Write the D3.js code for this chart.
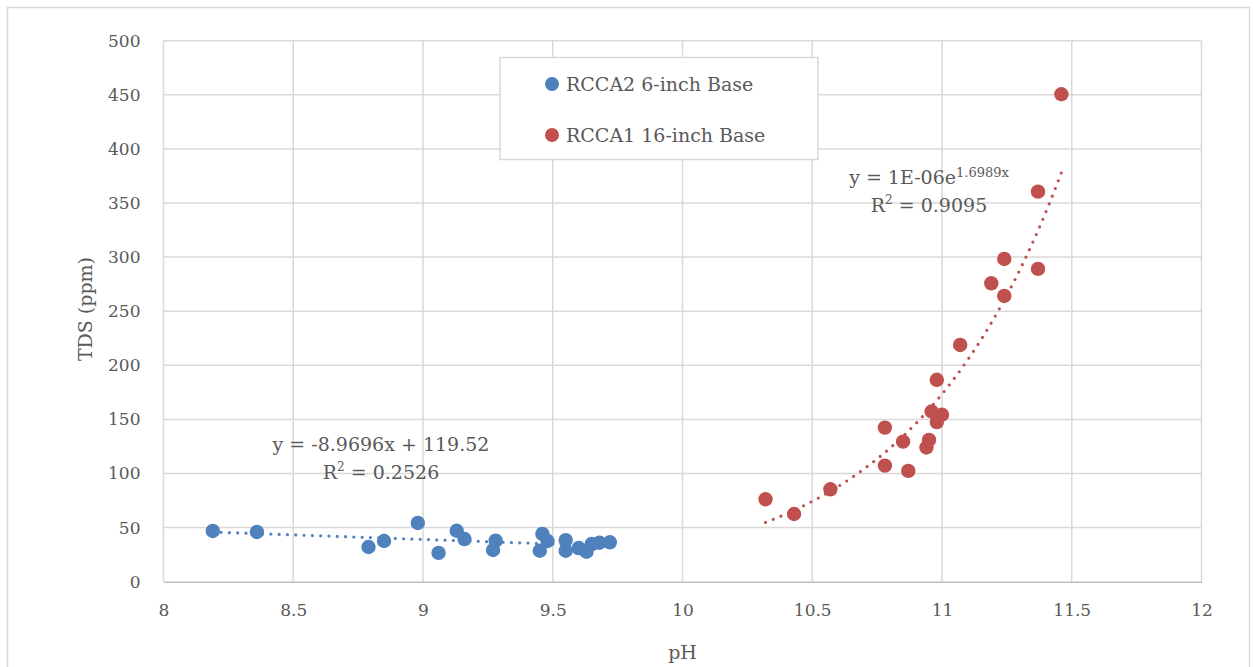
<html>
<head>
    <style>
        body { margin: 0; background: #fff; }
        text { font-family: "DejaVu Serif", "Liberation Serif", serif; fill: #595959; }
    </style>
</head>
<body>
    <svg id="container" width="1253" height="667"></svg>
</body>
<script src="https://d3js.org/d3.v7.min.js"></script>
<script>
    // pH / TDS readings, RCCA2 6-inch base
    const phBlue  = [8.19, 8.36, 8.79, 8.85, 8.98, 9.06, 9.13, 9.16, 9.27, 9.28, 9.46, 9.45, 9.48, 9.55, 9.55, 9.60, 9.63, 9.65, 9.68, 9.72]
    const tdsBlue = [46.9, 46.0, 32.1, 37.6, 54.3, 26.6, 47.1, 39.4, 29.3, 37.9, 44.2, 28.6, 37.6, 38.4, 28.6, 31.1, 27.7, 34.8, 36.0, 36.4]

    // pH / TDS readings, RCCA1 16-inch base
    const phRed  = [10.32, 10.43, 10.57, 10.78, 10.78, 10.85, 10.87, 10.95, 10.94, 10.96, 11.00, 10.98, 10.98, 11.07, 11.19, 11.24, 11.24, 11.37, 11.37, 11.46]
    const tdsRed = [76.2, 62.6, 85.4, 142.4, 107.3, 129.5, 102.4, 131.1, 124.0, 157.3, 154.3, 147.5, 186.6, 218.8, 275.8, 264.1, 298.3, 289.1, 360.5, 450.5]

    const seriesNames = ["RCCA2 6-inch Base", "RCCA1 16-inch Base"]
    const xTicks = [8, 8.5, 9, 9.5, 10, 10.5, 11, 11.5, 12]
    const yTicks = [0, 50, 100, 150, 200, 250, 300, 350, 400, 450, 500]

    const blue = "#4F81BD"
    const red = "#C0504D"
    const font = "DejaVu Serif"

    let svg = d3.select("#container")

    // outer chart border
    svg.append("rect")
        .attr("x", 7.5).attr("y", 7.5)
        .attr("width", 1242).attr("height", 700)
        .attr("fill", "none").attr("stroke", "#D9D9D9").attr("stroke-width", 1.5)

    let xScale = d3.scaleLinear().domain([8, 12]).range([163.5, 1201.5])
    let yScale = d3.scaleLinear().domain([0, 500]).range([581.7, 40.7])

    // gridlines
    svg.append("g").selectAll("line.h")
        .data(yTicks.filter(d => d > 0))
        .join("line")
        .attr("x1", xScale(8)).attr("x2", xScale(12))
        .attr("y1", d => yScale(d)).attr("y2", d => yScale(d))
        .attr("stroke", "#D9D9D9").attr("stroke-width", 1.5)
    svg.append("g").selectAll("line.v")
        .data(xTicks)
        .join("line")
        .attr("x1", d => xScale(d)).attr("x2", d => xScale(d))
        .attr("y1", yScale(500)).attr("y2", yScale(0))
        .attr("stroke", "#D9D9D9").attr("stroke-width", 1.5)

    // x axis
    let xAxis = svg.append("g")
        .attr("transform", "translate(0," + yScale(0) + ")")
        .call(d3.axisBottom(xScale).tickValues(xTicks).tickSize(0).tickPadding(22).tickFormat(d3.format("")))
    xAxis.select("path.domain").attr("stroke", "#BFBFBF").attr("stroke-width", 1.5)
    xAxis.selectAll("text").style("font-size", "17px").attr("fill", "#595959")
        .style("font-family", font)

    // y axis
    let yAxis = svg.append("g")
        .attr("transform", "translate(" + xScale(8) + ",0)")
        .call(d3.axisLeft(yScale).tickValues(yTicks).tickSize(0).tickPadding(23))
    yAxis.select("path.domain").remove()
    yAxis.selectAll("text").style("font-size", "17px").attr("fill", "#595959")
        .style("font-family", font)

    // axis titles
    svg.append("text")
        .attr("transform", "translate(85," + (yScale(252)) + ") rotate(-90)")
        .attr("text-anchor", "middle")
        .attr("dy", "0.35em")
        .style("font-size", "19px")
        .text("TDS (ppm)")
    svg.append("text")
        .attr("x", xScale(10)).attr("y", 659)
        .attr("text-anchor", "middle")
        .style("font-size", "19px")
        .text("pH")

    // least squares fits (Excel style trendlines)
    function linFit(xs, ys) {
        let mx = d3.mean(xs), my = d3.mean(ys)
        let sxy = d3.sum(xs, (x, i) => (x - mx) * (ys[i] - my))
        let sxx = d3.sum(xs, x => (x - mx) * (x - mx))
        let b = sxy / sxx
        return { slope: b, intercept: my - b * mx }
    }
    let blueFit = linFit(phBlue, tdsBlue)
    let redFit = linFit(phRed, tdsRed.map(Math.log))

    let dotted = (path, color) => path
        .attr("fill", "none")
        .attr("stroke", color)
        .attr("stroke-width", 3.2)
        .attr("stroke-linecap", "round")
        .attr("stroke-dasharray", "0 8.3")

    let line = d3.line().x(d => xScale(d[0])).y(d => yScale(d[1]))

    let bx = d3.extent(phBlue)
    svg.append("path")
        .datum(bx.map(x => [x, blueFit.intercept + blueFit.slope * x]))
        .attr("d", line)
        .call(dotted, blue)

    let rx = d3.extent(phRed)
    let redCurve = d3.range(0, 61).map(i => rx[0] + (rx[1] - rx[0]) * i / 60)
        .map(x => [x, Math.exp(redFit.intercept + redFit.slope * x)])
    svg.append("path")
        .datum(redCurve)
        .attr("d", line)
        .call(dotted, red)

    // markers
    svg.append("g").selectAll("circle")
        .data(phBlue.map((x, i) => [x, tdsBlue[i]]))
        .join("circle")
        .attr("cx", d => xScale(d[0])).attr("cy", d => yScale(d[1]))
        .attr("r", 7.2).attr("fill", blue)
    svg.append("g").selectAll("circle")
        .data(phRed.map((x, i) => [x, tdsRed[i]]))
        .join("circle")
        .attr("cx", d => xScale(d[0])).attr("cy", d => yScale(d[1]))
        .attr("r", 7.2).attr("fill", red)

    // trendline labels
    svg.append("text").attr("x", 381).attr("y", 451)
        .attr("text-anchor", "middle").style("font-size", "19px")
        .text("y = -8.9696x + 119.52")
    let r2Blue = svg.append("text").attr("x", 381).attr("y", 479)
        .attr("text-anchor", "middle").style("font-size", "19px")
    r2Blue.append("tspan").text("R")
    r2Blue.append("tspan").attr("dy", -8).style("font-size", "12px").text("2")
    r2Blue.append("tspan").attr("dy", 8).text(" = 0.2526")

    let eqRed = svg.append("text").attr("x", 929).attr("y", 184)
        .attr("text-anchor", "middle").style("font-size", "19px")
    eqRed.append("tspan").text("y = 1E-06e")
    eqRed.append("tspan").attr("dy", -7).style("font-size", "13px").text("1.6989x")
    let r2Red = svg.append("text").attr("x", 929).attr("y", 212)
        .attr("text-anchor", "middle").style("font-size", "19px")
    r2Red.append("tspan").text("R")
    r2Red.append("tspan").attr("dy", -8).style("font-size", "12px").text("2")
    r2Red.append("tspan").attr("dy", 8).text(" = 0.9095")

    // legend
    svg.append("rect")
        .attr("x", 500).attr("y", 57.5)
        .attr("width", 318).attr("height", 102)
        .attr("fill", "#fff").attr("stroke", "#D9D9D9").attr("stroke-width", 1.5)
    let legend = svg.append("g").selectAll("g")
        .data(seriesNames)
        .join("g")
        .attr("transform", (d, i) => "translate(552," + (84 + i * 51) + ")")
    legend.append("circle").attr("r", 7).attr("fill", (d, i) => i == 0 ? blue : red)
    legend.append("text").attr("x", 14).attr("dy", "0.35em")
        .style("font-size", "19px")
        .text(d => d)
</script>
</html>
